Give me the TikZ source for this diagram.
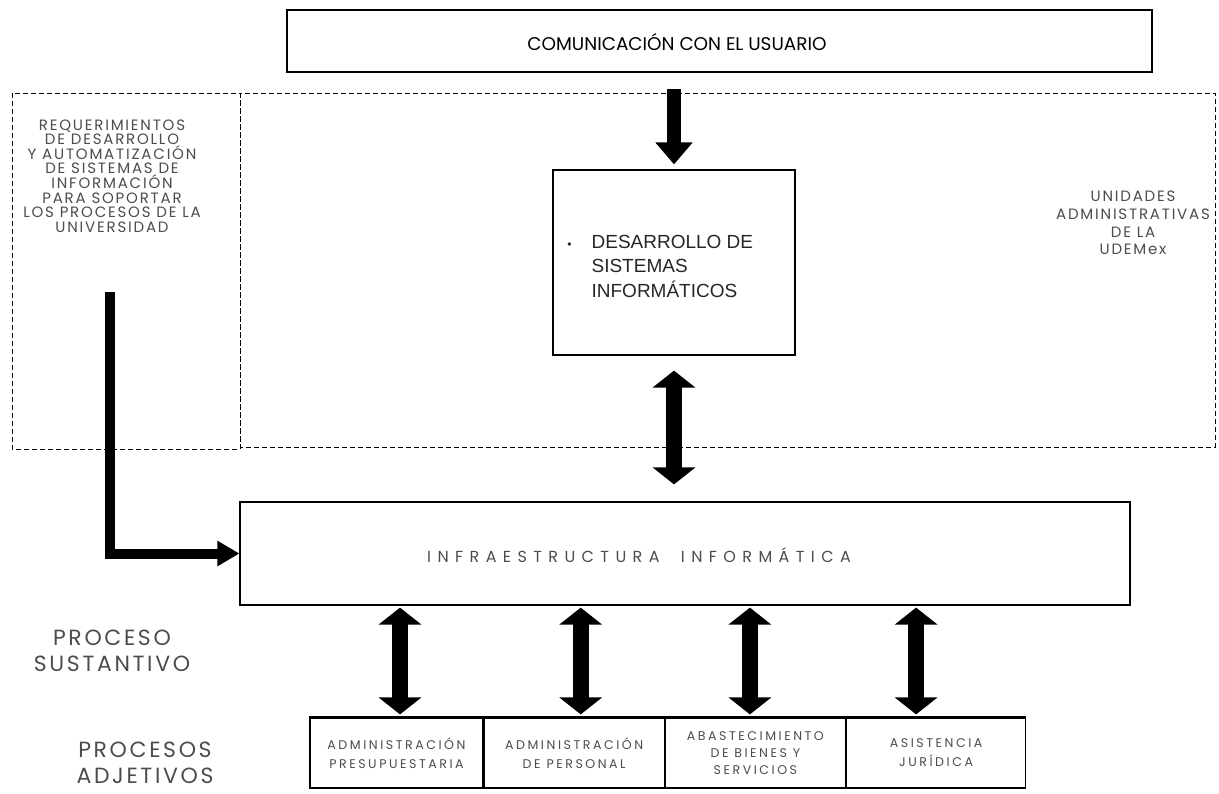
\documentclass[tikz,border=0pt]{standalone}
\usepackage{fontspec}
\setmainfont{Poppins}
\newfontfamily\arialfont{Liberation Sans}
\newfontfamily\geofont[LetterSpace=12]{Poppins}
\newfontfamily\geocellfont[LetterSpace=20]{Poppins}
\newfontfamily\geowidefont[LetterSpace=40]{Poppins}
\usetikzlibrary{arrows.meta,positioning}
\definecolor{inkgray}{gray}{0.3}

\begin{document}
\begin{tikzpicture}[x=0.5pt, y=-0.5pt,
	box style/.style={draw, rectangle, line width=0.6pt, inner sep=0pt},
	area style/.style={draw, line width=0.5pt, dash pattern=on 2.5pt off 1.5pt},
	label style/.style={align=center, inner sep=0pt, text=inkgray, font=\geofont\fontsize{7.5}{7.3}\selectfont},
	side style/.style={align=center, inner sep=0pt, text=inkgray, font=\geofont\fontsize{11}{13}\selectfont},
	cell style/.style={box style, minimum height=35pt, align=center, text=inkgray, font=\geocellfont\fontsize{6.3}{9.5}\selectfont},
	down arrow/.style={line width=7pt, -{Triangle[width=18pt,length=11pt]}},
	both arrow/.style={line width=8pt, {Triangle[width=21pt,length=8.5pt]}-{Triangle[width=21pt,length=8.5pt]}},
	feed arrow/.style={line width=5pt, -{Triangle[width=12pt,length=11pt]}}]
	\useasboundingbox (0,0) rectangle (1219,793);
	% areas
	\draw[area style] (12,93) rectangle (240,449);
	\draw[area style] (240,93) rectangle (1215,447);
	% boxes
	\node[box style, minimum width=432.5pt, minimum height=31pt] (com) at (719.5,41) {};
	\node[font=\fontsize{9.2}{11}\selectfont] (comtxt) at (677,42) {COMUNICACIÓN CON EL USUARIO};
	\node[box style, minimum width=121pt, minimum height=92.5pt] (des) at (674,262.5) {};
	\node[anchor=west, inner sep=0pt, font=\arialfont\fontsize{9.5}{12.25}\selectfont, text=black!85] (destxt) at (567,268) {%
		\begin{tabular}{@{}l@{\hspace{10pt}}l@{}}
			{\fontsize{6}{6}\selectfont\textbullet} & DESARROLLO DE\\
			& SISTEMAS\\
			& INFORMÁTICOS
		\end{tabular}};
	\node[box style, minimum width=445pt, minimum height=51.5pt] (infra) at (685,553.5) {};
	\node[text=inkgray, font=\geowidefont\fontsize{8}{9}\selectfont] (infratxt) at (639,555) {INFRAESTRUCTURA\ \ INFORMÁTICA};
	% texts
	\node[label style] (req) at (112,176) {REQUERIMIENTOS\\DE DESARROLLO\\Y AUTOMATIZACIÓN\\DE SISTEMAS DE\\INFORMACIÓN\\PARA SOPORTAR\\LOS PROCESOS DE LA\\UNIVERSIDAD};
	\node[label style, font=\geofont\fontsize{7.5}{8.8}\selectfont] (udem) at (1133,223) {UNIDADES\\ADMINISTRATIVAS\\DE LA\\UDEMex};
	\node[side style] (sust) at (112,651) {PROCESO\\SUSTANTIVO};
	\node[side style] (adj) at (145,763) {PROCESOS\\ADJETIVOS};
	% procesos adjetivos
	\node[cell style, minimum width=86.5pt] (a1) at (396.5,753) {ADMINISTRACIÓN\\PRESUPUESTARIA};
	\node[cell style, minimum width=90pt, right=0pt of a1] (a2) {ADMINISTRACIÓN\\DE PERSONAL};
	\node[cell style, minimum width=90pt, right=0pt of a2, font=\geocellfont\fontsize{6.3}{8.5}\selectfont] (a3) {ABASTECIMIENTO\\DE BIENES Y\\SERVICIOS};
	\node[cell style, minimum width=89.5pt, right=0pt of a3] (a4) {ASISTENCIA\\JURÍDICA};
	\draw[line width=1.5pt] (a1.north west) -- (a4.north east);
	% arrows
	\coordinate (reqfoot) at (110,292);
	\draw[down arrow, shorten <=8pt, shorten >=2.5pt] (com.south -| des.north) -- (des.north);
	\draw[both arrow, shorten <=7.5pt, shorten >=8.5pt] (des.south) -- (infra.north -| des.south);
	\draw[feed arrow] (reqfoot) |- (infra.west);
	\foreach \x/\dx in {1/1.75,2/3.25,3/-2.75,4/-10}
	\draw[both arrow, shorten <=1pt, shorten >=1.5pt] ([xshift=\dx pt]infra.south -| a\x.north) -- ([xshift=\dx pt]a\x.north);
\end{tikzpicture}
\end{document}
